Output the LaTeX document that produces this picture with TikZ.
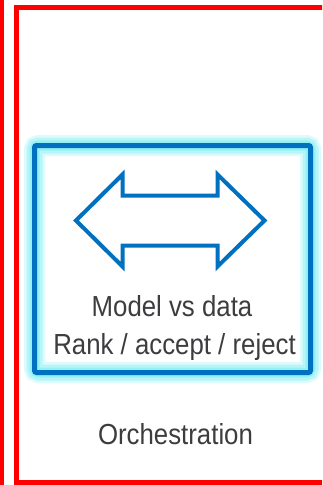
\documentclass[tikz,border=0pt]{standalone}
\usepackage{fontspec}
\setmainfont[FakeStretch=0.89]{Liberation Sans}
\definecolor{frame}{HTML}{FF0000}
\definecolor{panelblue}{HTML}{0070C0}
\definecolor{glowcyan}{HTML}{8FF0F4}
\definecolor{label}{HTML}{3D3D40}
\begin{document}
\begin{tikzpicture}[x=1pt,y=-1pt,
  panel/.style={draw=panelblue, line width=5pt, rounded corners=2pt,
    outer sep=0pt, inner sep=0pt, minimum width=276pt, minimum height=227pt},
  glow/.style={draw=glowcyan, rounded corners=4pt},
  caption/.style={anchor=base, text=label, inner sep=0pt,
    font=\fontsize{29}{35}\selectfont},
  arrowline/.style={draw=panelblue, line width=4pt, line join=miter}]
\useasboundingbox (0,0) rectangle (322,485);

% red frame lines, cut at the page edge
\begin{scope}
  \clip (0,0) rectangle (322,485);
  \draw[frame, line width=4.3pt] (2.15,-10) -- (2.15,495);
  \draw[frame, line width=5pt] (340,7.2) -- (16.5,7.2) -- (16.5,482.7) -- (340,482.7);
\end{scope}

% soft cyan halo under the blue panel
\draw[glow, line width=21pt, opacity=0.3] (34.5,145.5) rectangle (310.5,372.5);
\draw[glow, line width=16pt, opacity=0.5] (34.5,145.5) rectangle (310.5,372.5);
\draw[glow, line width=10pt, opacity=0.9] (34.5,145.5) rectangle (310.5,372.5);

% blue panel
\node[panel] (box) at (172.5,259) {};

% double-headed arrow
\draw[arrowline] (76,220.5) -- (122.5,174.5) -- (122.5,195.5) -- (217.5,195.5)
  -- (217.5,174.5) -- (264.5,220.5) -- (217.5,266.5) -- (217.5,245.5)
  -- (122.5,245.5) -- (122.5,266.5) -- cycle;

% labels
\node[caption] (model) at (172,316) {Model vs data};
\node[caption] (rank) at (174.5,354) {Rank / accept / reject};
\node[caption] (orch) at (175.5,444) {Orchestration};
\end{tikzpicture}
\end{document}
